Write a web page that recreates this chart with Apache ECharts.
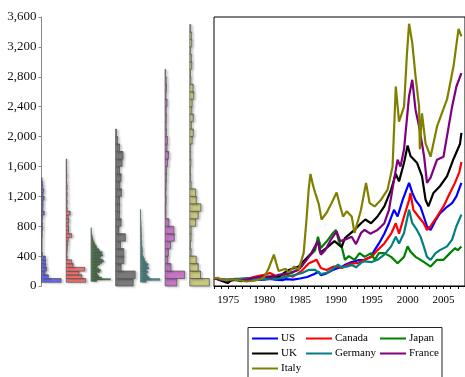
<!DOCTYPE html>
<html><head><meta charset="utf-8">
<script src="https://cdn.jsdelivr.net/npm/echarts@6/dist/echarts.min.js"></script>
<style>html,body{margin:0;padding:0;background:#fff}#c{width:465px;height:377px}</style>
</head><body><div id="c"></div>
<script>
// ---------- data ----------
const countries = ['US','Canada','Japan','UK','Germany','France','Italy'];
const lineColors = ['#0000ff','#ff0000','#008000','#000000','#008080','#800080','#808000'];
const histColors = ['#6b6bff','#ff7676','#4f8a4f','#7a7a7a','#4a9999','#c875c8','#c8c87e'];
const yTicks = [0,400,800,1200,1600,2000,2400,2800,3200,3600];
const xLabelYears = [1975,1980,1985,1990,1995,2000,2005];

// histogram bins: start value, bin width, relative frequencies
const usBinStart = 50, usBinWidth = 50;
const usFreq = [1.0,0.35,0.18,0.26,0.22,0.2,0.2,0.05,0.03,0.03,0.03,0.03,0.04,0.04,0.06,0.05,0.04,0.06,0.14,0.07,0.08,0.08,0.13,0.08,0.11,0.07,0.06,0.03];
const caBinStart = 50, caBinWidth = 50;
const caFreq = [1.0,0.8,0.65,0.95,0.35,0.28,0.05,0.04,0.05,0.06,0.08,0.1,0.28,0.12,0.12,0.1,0.13,0.1,0.2,0.05,0.04,0.05,0.04,0.05,0.04,0.05,0.04,0.03,0.04,0.03,0.03,0.02,0.02];
const jpBinStart = 60, jpBinWidth = 20;
const jpFreq = [0.3,1.0,0.55,0.4,0.35,0.3,0.45,0.5,0.4,0.3,0.35,0.45,0.55,0.65,0.6,0.45,0.5,0.6,0.55,0.58,0.45,0.4,0.3,0.28,0.22,0.18,0.15,0.12,0.1,0.08,0.07,0.05,0.04,0.03,0.02,0.02];
const ukBinStart = 0, ukBinWidth = 100;
const ukFreq = [0.9,1.0,0.28,0.42,0.42,0.25,0.5,0.17,0.28,0.2,0.2,0.2,0.3,0.22,0.28,0.2,0.33,0.38,0.2,0.1,0.05];
const deBinStart = 50, deBinWidth = 25;
const deFreq = [0.3,1.0,0.45,0.35,0.3,0.38,0.3,0.42,0.35,0.4,0.3,0.22,0.2,0.15,0.12,0.1,0.12,0.1,0.1,0.08,0.07,0.08,0.07,0.06,0.07,0.06,0.06,0.05,0.05,0.05,0.04,0.04,0.04,0.03,0.03,0.03,0.02,0.02,0.01];
const frBinStart = 0, frBinWidth = 100;
const frFreq = [0.6,1.0,0.3,0.14,0.17,0.28,0.47,0.45,0.2,0.05,0.05,0.06,0.05,0.06,0.07,0.08,0.13,0.18,0.1,0.12,0.07,0.06,0.07,0.06,0.1,0.05,0.07,0.06,0.03];
const itBinStart = 0, itBinWidth = 100;
const itFreq = [1.0,0.55,0.43,0.33,0.07,0.04,0.07,0.07,0.3,0.43,0.57,0.33,0.3,0.07,0.05,0.04,0.06,0.05,0.05,0.12,0.18,0.08,0.18,0.1,0.12,0.2,0.17,0.06,0.04,0.1,0.08,0.05,0.1,0.08,0.05];

// index series [year, value]
const usSeries = [[1973,100],[1973.5,95],[1974,85],[1974.7,62],[1975,70],[1975.5,80],[1976,85],[1977,80],[1978,75],[1979,80],[1980,85],[1980.9,95],[1981.5,85],[1982.5,78],[1983,92],[1984,85],[1985,100],[1986,120],[1987,160],[1987.6,190],[1987.9,145],[1988.5,160],[1989.5,210],[1990,230],[1990.7,250],[1991.2,280],[1992.2,320],[1993.1,345],[1994,350],[1994.9,390],[1995.4,480],[1996,570],[1996.75,700],[1997.4,840],[1998.1,1020],[1998.6,930],[1999.3,1150],[2000,1330],[2000.2,1380],[2000.65,1250],[2001.1,1150],[2001.8,1060],[2002.25,930],[2002.7,800],[2003.2,750],[2003.9,880],[2004.5,970],[2005.5,1060],[2006.2,1110],[2006.8,1200],[2007.5,1380]];
const caSeries = [[1973,100],[1974,90],[1974.8,78],[1975.5,88],[1976.5,92],[1978,105],[1979,130],[1980,150],[1980.8,175],[1981.5,140],[1982.5,110],[1983.5,140],[1984,125],[1985.2,200],[1986.2,300],[1987.3,350],[1987.9,240],[1988.7,215],[1989.7,260],[1990.3,260],[1990.8,240],[1991.5,280],[1992.2,300],[1993.1,310],[1994,350],[1995,390],[1995.8,480],[1996.75,570],[1997.7,700],[1998.35,840],[1998.8,700],[1999.5,930],[2000.2,1150],[2000.4,1245],[2000.8,1020],[2001.5,930],[2002.25,840],[2002.7,750],[2003.2,800],[2004.1,930],[2005,1065],[2005.9,1245],[2006.6,1380],[2007.2,1520],[2007.5,1660]];
const jpSeries = [[1973,100],[1974.8,82],[1976,90],[1978,100],[1980,110],[1982,130],[1983.9,175],[1985.2,260],[1986.2,390],[1987.1,480],[1987.5,660],[1987.9,510],[1988.7,595],[1989.6,710],[1990,750],[1990.4,600],[1990.8,530],[1991.25,350],[1991.8,400],[1992.6,350],[1993.3,440],[1994,390],[1994.9,440],[1995.4,350],[1996,440],[1996.75,440],[1997.7,390],[1998.6,305],[1999.5,390],[2000,530],[2000.4,460],[2001.1,390],[2001.8,350],[2002.5,305],[2003.2,260],[2004.1,350],[2005,350],[2005.9,440],[2006.6,505],[2007,480],[2007.5,530]];
const ukSeries = [[1973,100],[1973.5,90],[1974,70],[1974.9,40],[1975.3,70],[1976,80],[1976.8,65],[1977.5,95],[1978.5,100],[1979.5,120],[1980.5,125],[1981.5,130],[1982,125],[1983.4,215],[1984.8,260],[1985.7,350],[1986.6,440],[1987.5,600],[1987.8,445],[1988.7,510],[1989.8,600],[1990.3,560],[1990.8,520],[1991.25,640],[1992.6,750],[1993.5,840],[1994.1,890],[1994.9,840],[1995.8,930],[1996.75,1065],[1997.7,1290],[1998.35,1500],[1998.8,1400],[1999.5,1650],[2000,1880],[2000.4,1740],[2001.3,1650],[2002,1470],[2002.5,1155],[2002.9,1065],[2003.6,1245],[2004.5,1335],[2005.5,1470],[2006.4,1700],[2007.3,1900],[2007.5,2050]];
const deSeries = [[1973,100],[1974.8,85],[1976,95],[1978,100],[1980,95],[1982,100],[1983.5,130],[1985.2,170],[1986.2,215],[1987.1,215],[1987.9,160],[1988.7,175],[1989.4,215],[1990.3,285],[1990.8,250],[1991.5,260],[1992.2,280],[1992.8,250],[1993.5,310],[1994,330],[1995,320],[1995.8,350],[1996.75,420],[1997.7,530],[1998.35,660],[1998.8,570],[1999.5,710],[2000,930],[2000.2,1020],[2000.65,840],[2001.3,750],[2001.8,660],[2002.25,530],[2002.7,390],[2003.2,350],[2003.9,440],[2004.5,480],[2005.5,530],[2006.2,620],[2006.8,800],[2007.5,955]];
const frSeries = [[1973,100],[1974,80],[1974.9,70],[1975.5,90],[1976.5,80],[1977.5,85],[1978.5,110],[1979.7,125],[1981,110],[1982,150],[1983.4,170],[1984.8,215],[1985.9,350],[1986.6,440],[1987.5,600],[1987.9,420],[1988.5,480],[1989.3,620],[1990.1,730],[1990.6,600],[1991.25,620],[1992.2,660],[1992.8,560],[1993.5,710],[1994,750],[1994.8,700],[1995.8,750],[1996.75,840],[1997.4,1020],[1998.1,1420],[1998.6,1690],[1999,1600],[1999.5,1830],[2000.2,2540],[2000.65,2760],[2001.1,2360],[2001.6,2135],[2002,1910],[2002.3,1730],[2002.7,1380],[2003.2,1450],[2004.1,1690],[2005,1730],[2006.2,2400],[2006.8,2670],[2007.5,2850]];
const itSeries = [[1973,100],[1973.5,110],[1974,90],[1974.8,75],[1975.5,90],[1976.5,75],[1977.5,60],[1978.5,70],[1979.5,90],[1980,120],[1980.6,230],[1981.35,420],[1981.7,300],[1982,200],[1983,230],[1983.4,180],[1984.2,260],[1984.8,220],[1985.5,440],[1985.9,890],[1986.2,1290],[1986.45,1500],[1986.8,1350],[1987.1,1250],[1987.6,1100],[1988,890],[1988.7,980],[1989.4,1110],[1990.1,1250],[1990.5,1100],[1991,930],[1991.5,1000],[1992.2,930],[1992.6,710],[1993.5,1020],[1994.2,1380],[1994.7,1110],[1995.4,1065],[1996.3,1155],[1997.2,1290],[1997.9,1600],[1998.35,2670],[1998.8,2200],[1999.5,2400],[1999.9,3100],[2000.2,3510],[2000.65,3250],[2001.1,2810],[2001.6,2400],[2001.7,1830],[2002,2310],[2002.5,1910],[2003.2,1730],[2004.1,2135],[2005.5,2500],[2006.4,2940],[2007.1,3440],[2007.5,3340]];

// ---------- build ----------
const hists = [
  [usBinStart,usBinWidth,usFreq],[caBinStart,caBinWidth,caFreq],[jpBinStart,jpBinWidth,jpFreq],
  [ukBinStart,ukBinWidth,ukFreq],[deBinStart,deBinWidth,deFreq],[frBinStart,frBinWidth,frFreq],
  [itBinStart,itBinWidth,itFreq]
];
const lineData = [usSeries,caSeries,jpSeries,ukSeries,deSeries,frSeries,itSeries];
const BAR_SCALE = 0.79;
const FONT = 'Liberation Serif';

function fmtThousands(v){
  if (v >= 1000) return Math.floor(v/1000) + ',' + String(v % 1000).padStart(3,'0');
  return String(v);
}

const series = [];
hists.forEach((h, slot) => {
  const [start, w, freq] = h;
  const data = freq.map((f, i) => [slot, start + i*w, start + (i+1)*w, f]);
  const color = histColors[slot];
  const thin = w < 50;
  series.push({
    type: 'custom', xAxisIndex: 0, yAxisIndex: 0, clip: false, silent: true,
    encode: { x: 0, y: [1,2] },
    data,
    renderItem: function(params, api){
      const s = api.value(0), lo = api.value(1), hi = api.value(2), f = api.value(3);
      const p0 = api.coord([s, lo]);
      const p1 = api.coord([s + f*BAR_SCALE, hi]);
      return {
        type: 'rect',
        shape: { x: p0[0], y: p1[1], width: Math.max(p1[0]-p0[0], 0.5), height: p0[1]-p1[1] },
        style: { fill: color, stroke: '#5a5a5a', lineWidth: thin ? 0.45 : 0.8,
                 shadowBlur: 2, shadowColor: 'rgba(0,0,0,0.18)', shadowOffsetX: 2, shadowOffsetY: 1 }
      };
    }
  });
});
lineData.forEach((d, i) => {
  series.push({
    name: countries[i], type: 'line', xAxisIndex: 1, yAxisIndex: 1,
    data: d, showSymbol: false, symbol: 'none',
    lineStyle: { color: lineColors[i], width: 2.2 }, itemStyle: { color: lineColors[i] }
  });
});

const legendPos = [
  [252, 333],[306, 333],[380, 333],
  [252, 348],[306, 348],[380, 348],
  [252, 363]
];
const legends = countries.map((c, i) => ({
  data: [c], left: legendPos[i][0], top: legendPos[i][1], padding: 0,
  icon: 'rect', itemWidth: 26, itemHeight: 2, selectedMode: false,
  textStyle: { fontFamily: FONT, fontSize: 11, color: '#000', padding: [0,0,0,-2] }
}));

const option = {
  animation: false,
  backgroundColor: '#fff',
  grid: [
    { left: 41.5, top: 17, width: 173, height: 269, show: false },
    { left: 214, top: 17, width: 254.5, height: 269, show: true, borderColor: '#000', borderWidth: 1, backgroundColor: 'transparent' }
  ],
  xAxis: [
    { gridIndex: 0, type: 'value', min: 0, max: 7, show: false },
    { gridIndex: 1, type: 'value', min: 1973, max: 2008, interval: 1,
      axisLine: { show: true, lineStyle: { color: '#000', width: 1 } },
      axisTick: { show: true, inside: false, length: 3, lineStyle: { color: '#000' } },
      axisLabel: { fontFamily: FONT, fontSize: 11, color: '#000', margin: 9, showMaxLabel: false,
                   formatter: v => xLabelYears.indexOf(v) >= 0 ? String(v) : '' },
      splitLine: { show: false } }
  ],
  yAxis: [
    { gridIndex: 0, type: 'value', min: yTicks[0], max: yTicks[yTicks.length-1], interval: 400,
      axisLine: { show: true, lineStyle: { color: '#8a8a8a', width: 1 } },
      axisTick: { show: true, inside: false, length: 3, lineStyle: { color: '#8a8a8a' } },
      axisLabel: { fontFamily: FONT, fontSize: 13, color: '#111', margin: 5, formatter: fmtThousands },
      splitLine: { show: false } },
    { gridIndex: 1, type: 'value', min: 0, max: 3600, show: false }
  ],
  legend: legends,
  graphic: [
    { type: 'rect', shape: { x: 248, y: 327.5, width: 194, height: 60 },
      style: { fill: 'none', stroke: '#222', lineWidth: 1 }, silent: true }
  ],
  series
};
const chart = echarts.init(document.getElementById('c'), null, { renderer: 'canvas' });
chart.setOption(option);
</script></body></html>
